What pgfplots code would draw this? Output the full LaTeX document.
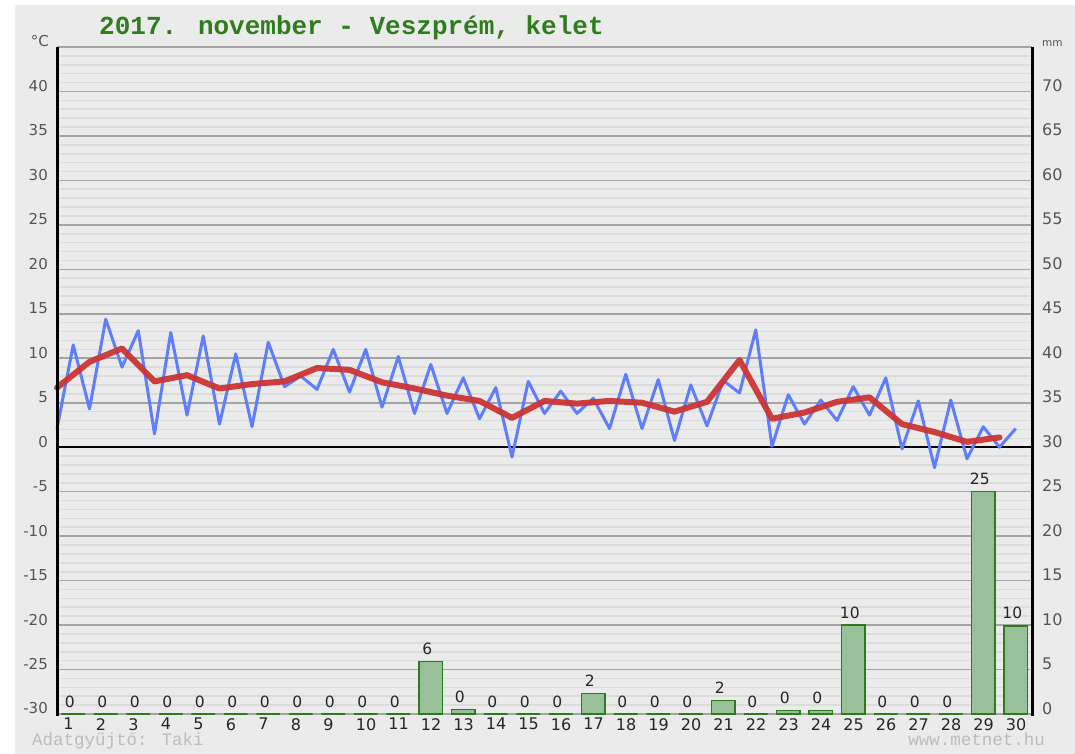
\documentclass[border=0pt]{standalone}
\usepackage{pgfplots}
\pgfplotsset{compat=1.18}
\usepackage{fontspec}
\setmainfont{DejaVu Sans}
\newfontfamily\mono{Liberation Mono}
\definecolor{bg}{HTML}{EBEBEB}
\definecolor{gridmaj}{HTML}{A4A4A4}
\definecolor{gridmin}{HTML}{DCDCDC}
\definecolor{tmax}{HTML}{5E7EFF}
\definecolor{tavg}{HTML}{CC3535}
\definecolor{barfill}{HTML}{99C199}
\definecolor{bardraw}{HTML}{2E7A1C}
\definecolor{titlegreen}{HTML}{2F7D1F}
\definecolor{lblgray}{HTML}{555555}
\definecolor{footgray}{HTML}{BDBDBD}

\pgfplotstableread{
x y
0 2.1
0.5 11.5
1 4.3
1.5 14.4
2 9.0
2.5 13.1
3 1.5
3.5 12.9
4 3.6
4.5 12.5
5 2.6
5.5 10.5
6 2.3
6.5 11.8
7 6.8
7.5 8.0
8 6.5
8.5 11.0
9 6.2
9.5 11.0
10 4.5
10.5 10.2
11 3.8
11.5 9.3
12 3.8
12.5 7.8
13 3.2
13.5 6.7
14 -1.1
14.5 7.4
15 3.8
15.5 6.3
16 3.8
16.5 5.5
17 2.1
17.5 8.2
18 2.1
18.5 7.6
19 0.75
19.5 7.0
20 2.4
20.5 7.5
21 6.1
21.5 13.2
22 0.1
22.5 5.9
23 2.6
23.5 5.3
24 3.0
24.5 6.8
25 3.6
25.5 7.8
26 -0.2
26.5 5.2
27 -2.3
27.5 5.3
28 -1.3
28.5 2.3
29 0
29.5 2.1
}\tempdata

\pgfplotstableread{
x y
0 6.7
1 9.6
2 11.1
3 7.4
4 8.1
5 6.6
6 7.1
7 7.4
8 8.9
9 8.7
10 7.3
11 6.6
12 5.8
13 5.2
14 3.3
15 5.2
16 4.9
17 5.2
18 5.0
19 4.0
20 5.1
21 9.8
22 3.2
23 3.9
24 5.1
25 5.6
26 2.6
27 1.7
28 0.6
29 1.1
}\avgdata

\pgfplotstableread{
x y lab
0.5 0 0
1.5 0 0
2.5 0 0
3.5 0 0
4.5 0 0
5.5 0 0
6.5 0 0
7.5 0 0
8.5 0 0
9.5 0 0
10.5 0 0
11.5 5.9 6
12.5 0.5 0
13.5 0 0
14.5 0 0
15.5 0 0
16.5 2.3 2
17.5 0 0
18.5 0 0
19.5 0 0
20.5 1.5 2
21.5 0 0
22.5 0.4 0
23.5 0.4 0
24.5 10 10
25.5 0 0
26.5 0 0
27.5 0 0
28.5 25 25
29.5 9.9 10
}\raindata

\begin{document}
\begin{tikzpicture}[x=1pt,y=1pt]
\useasboundingbox (-57,-40) rectangle (1018,714);
\fill[white] (-57,-40) rectangle (1018,714);
\fill[bg] (-42,-40) rectangle (1018,709);

% precipitation axis (right, mm)
\begin{axis}[
  at={(0,0)}, anchor=south west,
  scale only axis, width=975pt, height=667pt,
  xmin=0, xmax=30, ymin=0, ymax=75,
  axis line style={draw=none},
  tick style={draw=none},
  major tick length=0pt, minor tick length=0pt,
  xtick={0.5,1.5,...,29.5},
  xticklabels={1,2,3,4,5,6,7,8,9,10,11,12,13,14,15,16,17,18,19,20,21,22,23,24,25,26,27,28,29,30},
  xticklabel style={anchor=north west, inner sep=0pt, xshift=-10pt, yshift=-4pt,
    font=\fontsize{16}{18}\selectfont, text=black!85},
  ytick={0,5,...,70},
  yticklabels={0,5,10,15,20,25,30,35,40,45,50,55,60,65,70},
  minor ytick={0,1,...,75},
  ymajorgrids, yminorgrids,
  major grid style={draw=gridmaj, line width=1.6pt},
  minor grid style={draw=gridmin, line width=1.6pt},
  yticklabel pos=right,
  yticklabel style={anchor=base west, inner sep=0pt, xshift=10pt,
    font=\fontsize{16}{18}\selectfont, text=lblgray},
]
\addplot[ybar, bar width=23.7pt, fill=barfill, draw=bardraw, line width=1.5pt,
  point meta=explicit symbolic, nodes near coords,
  nodes near coords style={anchor=south, inner sep=0pt, yshift=6pt, xshift=-3.5pt,
    font=\fontsize{15.5}{17}\selectfont, text=black!85}]
  table[x=x, y=y, meta=lab] {\raindata};
\end{axis}

% temperature axis (left, degC)
\begin{axis}[
  at={(0,0)}, anchor=south west,
  scale only axis, width=975pt, height=667pt,
  xmin=0, xmax=30, ymin=-30, ymax=45,
  axis line style={draw=none},
  tick style={draw=none},
  major tick length=0pt,
  xtick=\empty,
  ytick={-30,-25,...,40},
  yticklabels={-30,-25,-20,-15,-10,-5,0,5,10,15,20,25,30,35,40},
  yticklabel style={anchor=base east, inner sep=0pt, xshift=-9pt,
    font=\fontsize{15}{17}\selectfont, text=lblgray},
  clip=false,
]
\draw[gridmaj, line width=1.6pt] (axis cs:0,45) -- (axis cs:30,45);
\draw[black, line width=2pt] (axis cs:0,0) -- (axis cs:30,0);
\addplot[tmax, line width=3pt, line join=round, no marks] table[x=x, y=y] {\tempdata};
\addplot[tavg, line width=6pt, line join=round, line cap=round, no marks, opacity=0.95] table[x=x, y=y] {\avgdata};
\draw[black, line width=3pt] (axis cs:0,-30.2) -- (axis cs:0,45);
\draw[black, line width=3pt] (axis cs:30,-30.2) -- (axis cs:30,45);
\end{axis}

\node[anchor=base west, inner sep=0pt, text=titlegreen,
  font=\mono\bfseries\fontsize{26}{30}\selectfont] at (42,679) {2017. november - Veszprém, kelet};
\node[anchor=base east, inner sep=0pt, text=lblgray, font=\fontsize{15}{17}\selectfont] at (-8,667) {°C};
\node[anchor=base west, inner sep=0pt, text=lblgray, font=\fontsize{10.5}{12}\selectfont] at (985,667) {mm};
\node[anchor=base west, inner sep=0pt, text=footgray, font=\mono\fontsize{17.5}{20}\selectfont] at (-25,-32) {Adatgyűjtő: Taki};
\node[anchor=base east, inner sep=0pt, text=footgray, font=\mono\fontsize{17.5}{20}\selectfont] at (988,-32) {www.metnet.hu};
\end{tikzpicture}
\end{document}
